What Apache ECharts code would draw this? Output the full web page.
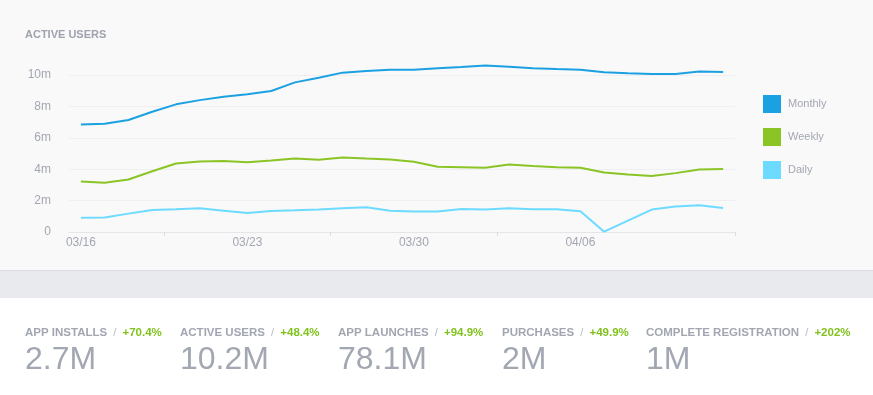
<!DOCTYPE html>
<html><head><meta charset="utf-8">
<script src="https://cdn.jsdelivr.net/npm/echarts@6/dist/echarts.min.js"></script>
<style>
html,body{margin:0;padding:0;width:873px;height:395px;overflow:hidden;background:#fff}
#bgTop{position:absolute;left:0;top:0;width:873px;height:270px;background:#f9f9f9}
#bgLine{position:absolute;left:0;top:270px;width:873px;height:1px;background:#dcdde1}
#bgBand{position:absolute;left:0;top:271px;width:873px;height:27px;background:#e9eaee}
#chart{position:absolute;left:0;top:0;width:873px;height:395px}
</style></head><body>
<div id="bgTop"></div><div id="bgLine"></div><div id="bgBand"></div>
<div id="chart"></div>
<script>
var dates = ['03/16','03/17','03/18','03/19','03/20','03/21','03/22','03/23','03/24','03/25','03/26','03/27','03/28','03/29',
             '03/30','03/31','04/01','04/02','04/03','04/04','04/05','04/06','04/07','04/08','04/09','04/10','04/11','04/12'];
var monthly = [6.85,6.89,7.13,7.66,8.13,8.40,8.62,8.77,8.98,9.53,9.83,10.15,10.26,10.34,10.34,10.43,10.51,10.60,10.53,10.43,10.38,10.34,10.17,10.11,10.06,10.06,10.23,10.19];
var weekly = [3.22,3.13,3.34,3.87,4.36,4.49,4.53,4.45,4.56,4.68,4.60,4.75,4.68,4.62,4.47,4.15,4.13,4.09,4.30,4.21,4.13,4.09,3.79,3.66,3.57,3.75,3.98,4.02];
var daily = [0.90,0.92,1.17,1.40,1.45,1.51,1.36,1.21,1.34,1.38,1.43,1.51,1.58,1.36,1.30,1.30,1.47,1.43,1.52,1.45,1.45,1.32,0.02,0.73,1.43,1.62,1.70,1.53];
var seriesNames = ['Monthly','Weekly','Daily'];
var seriesColors = ['#1ba1e2','#8bc425','#6cdbff'];

var statLabels = ['APP INSTALLS','ACTIVE USERS','APP LAUNCHES','PURCHASES','COMPLETE REGISTRATION'];
var statChanges = ['+70.4%','+48.4%','+94.9%','+49.9%','+202%'];
var statValues = ['2.7M','10.2M','78.1M','2M','1M'];
var statX = [25,180,338,502,646];

var FONT = '"Liberation Sans", Arial, Helvetica, sans-serif';
var gray = '#a3a7b2';

var graphics = [{
  type:'text', left:25, top:29,
  style:{text:'ACTIVE USERS', font:'bold 11px '+FONT, fill:'#9ea2ae'}
}];
statLabels.forEach(function(l,i){
  graphics.push({
    type:'text', x:statX[i], y:333,
    style:{
      text:'{a|'+l+'}{s|  /  }{g|'+statChanges[i]+'}',
      verticalAlign:'middle',
      rich:{
        a:{font:'bold 11.5px '+FONT, fill:'#a2a6b1'},
        s:{font:'11px '+FONT, fill:'#b8bbc3'},
        g:{font:'bold 11.5px '+FONT, fill:'#80c21d'}
      }
    }
  });
  graphics.push({
    type:'text', x:statX[i], y:360,
    style:{text:statValues[i], font:'32px '+FONT, fill:'#a2a7b1', verticalAlign:'middle'}
  });
});

var chart = echarts.init(document.getElementById('chart'), null, {renderer:'canvas'});
chart.setOption({
  animation:false,
  backgroundColor:'transparent',
  textStyle:{fontFamily:FONT},
  grid:{left:69, right:138, top:75, height:157, containLabel:false},
  legend:{
    orient:'vertical', left:763, top:95, padding:0, itemWidth:18, itemHeight:18, itemGap:15,
    icon:'rect', data:seriesNames,
    textStyle:{color:gray, fontSize:11, fontFamily:FONT, padding:[0,0,0,2]}
  },
  xAxis:{
    type:'category', data:dates, boundaryGap:true,
    axisLine:{lineStyle:{color:'#e6e6e8', width:1}},
    axisTick:{show:true, length:4, lineStyle:{color:'#dcdcdf'},
      interval:function(i){return i===4||i===11||i===18;}},
    axisLabel:{interval:6, color:gray, fontSize:12, margin:5, fontFamily:FONT},
    splitLine:{show:false}
  },
  yAxis:{
    type:'value', min:0, max:10, interval:2,
    axisLine:{show:false}, axisTick:{show:false},
    axisLabel:{color:gray, fontSize:12, margin:18, fontFamily:FONT,
      formatter:function(v){return v===0?'0':v+'m';}},
    splitLine:{lineStyle:{color:'#efeff1', width:1}}
  },
  series:[monthly,weekly,daily].map(function(d,i){
    return {name:seriesNames[i], type:'line', data:d, showSymbol:false, symbol:'none',
      clip:false, itemStyle:{color:seriesColors[i]},
      lineStyle:{color:seriesColors[i], width:2}};
  }),
  graphic:graphics
});
</script>
</body></html>
